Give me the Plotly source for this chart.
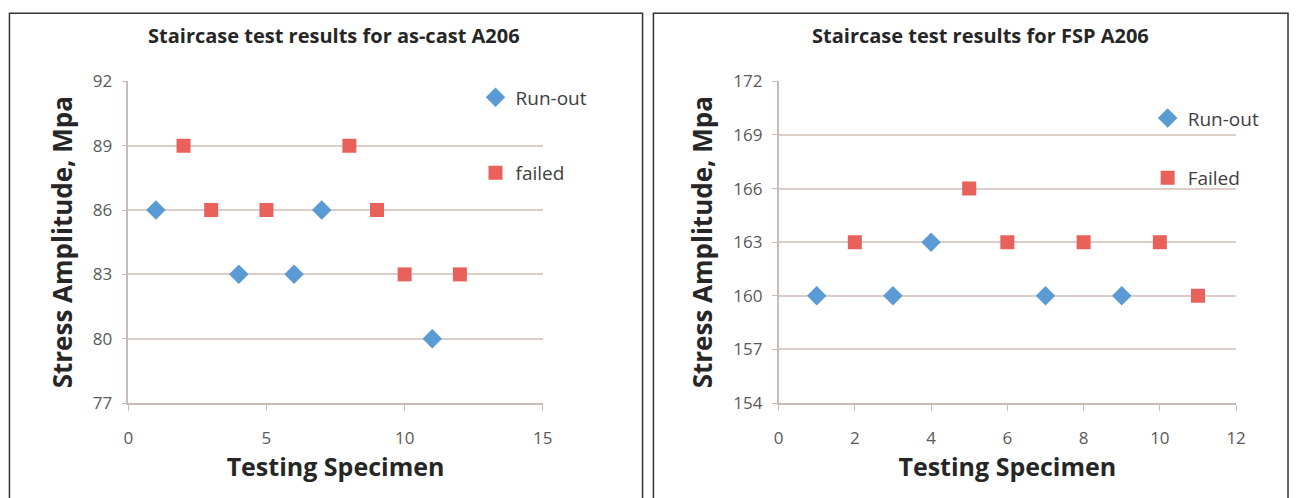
import plotly.graph_objects as go

W, H = 1299, 498

# Left panel: as-cast A206
ac_runout_x = [1, 4, 6, 7, 11]
ac_runout_y = [86, 83, 83, 86, 80]
ac_failed_x = [2, 3, 5, 8, 9, 10, 12]
ac_failed_y = [89, 86, 86, 89, 86, 83, 83]

# Right panel: FSP A206
fsp_runout_x = [1, 3, 4, 7, 9]
fsp_runout_y = [160, 160, 163, 160, 160]
fsp_failed_x = [2, 5, 6, 8, 10, 11]
fsp_failed_y = [163, 166, 163, 163, 163, 160]

titles = ["Staircase test results for as-cast A206", "Staircase test results for FSP A206"]
left_names = ["Run-out", "failed"]
right_names = ["Run-out", "Failed"]
x_title = "Testing Specimen"
y_title = "Stress Amplitude, Mpa"

BLUE = "#5b9bd5"
RED = "#e8615b"
FONT = "'Open Sans', sans-serif"

fig = go.Figure()

def add(x, y, name, color, symbol, xa, ya, legend):
    fig.add_trace(go.Scatter(
        x=x, y=y, mode="markers", name=name,
        marker=dict(color=color, symbol=symbol, size=14 if symbol == "square" else 15,
                    line=dict(width=0)),
        xaxis=xa, yaxis=ya, legend=legend, legendgroup=name + legend,
    ))

add(ac_runout_x, ac_runout_y, left_names[0], BLUE, "diamond", "x", "y", "legend")
add(ac_failed_x, ac_failed_y, left_names[1], RED, "square", "x", "y", "legend")
add(fsp_runout_x, fsp_runout_y, right_names[0], BLUE, "diamond", "x2", "y2", "legend2")
add(fsp_failed_x, fsp_failed_y, right_names[1], RED, "square", "x2", "y2", "legend2")

def px(v):
    return v / W

def py(v):
    return 1 - v / H

tickfont = dict(family=FONT, size=17, color="#595959")
xtitle_font = dict(family=FONT, size=25, color="#262626", weight="bold")
ytitle_font = dict(family=FONT, size=26, color="#262626", weight="bold")
grid = "#dccdc8"
axline = "#c8bcb8"

common_x = dict(showgrid=False, showline=True, linecolor=axline, linewidth=1.5,
                ticks="outside", ticklen=6, tickcolor=axline, tickfont=tickfont,
                zeroline=False, ticklabelstandoff=13)
common_y = dict(showgrid=True, gridcolor=grid, gridwidth=1.5, showline=True,
                linecolor=axline, linewidth=1.5, ticks="outside", ticklen=5,
                tickcolor=axline, tickfont=tickfont, zeroline=False, dtick=3,
                ticklabelstandoff=6)

fig.update_layout(
    width=W, height=H,
    margin=dict(l=0, r=0, t=0, b=0),
    paper_bgcolor="white", plot_bgcolor="white",
    font=dict(family=FONT),
    xaxis=dict(common_x, domain=[px(124.7), px(544.1)], range=[0, 15], dtick=5, anchor="y",
               title=dict(text=x_title, font=xtitle_font, standoff=10)),
    yaxis=dict(common_y, domain=[py(410), py(72.7)], range=[77, 92], tick0=77, anchor="x",
               title=dict(text=y_title, font=ytitle_font, standoff=13)),
    xaxis2=dict(common_x, domain=[px(782.6), px(1245.5)], range=[0, 12], dtick=2, anchor="y2",
                title=dict(text=x_title, font=xtitle_font, standoff=10)),
    yaxis2=dict(common_y, domain=[py(410), py(72.7)], range=[154, 172], tick0=154, anchor="x2",
                title=dict(text=y_title, font=ytitle_font, standoff=13)),
    legend=dict(x=px(476), y=py(69.5), xanchor="left", yanchor="top",
                font=dict(family=FONT, size=19, color="#404040"),
                bgcolor="rgba(0,0,0,0)", tracegroupgap=48, itemwidth=30),
    legend2=dict(x=px(1156), y=py(91.5), xanchor="left", yanchor="top",
                 font=dict(family=FONT, size=19, color="#404040"),
                 bgcolor="rgba(0,0,0,0)", tracegroupgap=32, itemwidth=30),
    annotations=[
        dict(text="<b>" + titles[0] + "</b>", x=px(333), y=py(25), xref="paper", yref="paper",
             xanchor="center", yanchor="middle", showarrow=False,
             font=dict(family=FONT, size=20, color="#262626")),
        dict(text="<b>" + titles[1] + "</b>", x=px(987), y=py(25), xref="paper", yref="paper",
             xanchor="center", yanchor="middle", showarrow=False,
             font=dict(family=FONT, size=20, color="#262626")),
    ],
    shapes=[
        dict(type="rect", xref="paper", yref="paper", x0=px(4.5), x1=px(645), y0=py(520), y1=py(1.2),
             line=dict(color="#333333", width=1.5), layer="below"),
        dict(type="rect", xref="paper", yref="paper", x0=px(656), x1=px(1298), y0=py(520), y1=py(1.2),
             line=dict(color="#333333", width=1.5), layer="below"),
    ],
)

fig.write_html(
    "out.html",
    config={"displayModeBar": False},
    post_script="document.body.style.margin='0';document.body.style.overflow='hidden';",
)
